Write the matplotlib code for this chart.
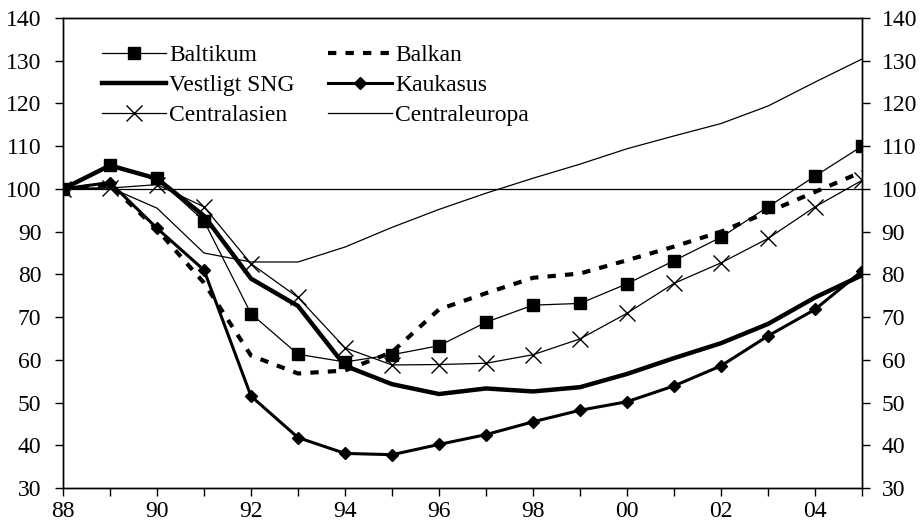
import numpy as np
import matplotlib
matplotlib.use('Agg')
import matplotlib.pyplot as plt

plt.rcParams['font.family'] = ['Liberation Serif', 'DejaVu Serif']

years = np.arange(1988, 2006)

baltikum = [100, 105.5, 102.5, 92.5, 70.8, 61.3, 59.5, 61.2, 63.3, 68.8,
            72.8, 73.2, 77.8, 83.2, 88.7, 95.8, 103, 110]
balkan = [100, 101, 90.5, 78, 61, 56.8, 57.5, 61.8, 71.8, 75.6,
          79.2, 80.2, 83.3, 86.5, 90, 94.6, 99.3, 104]
vestligt_sng = [100, 105.5, 102.4, 93.7, 79, 72.6, 58.6, 54.3, 52, 53.3,
                52.6, 53.6, 56.7, 60.4, 63.9, 68.4, 74.6, 79.8]
kaukasus = [100, 101.5, 90.8, 81, 51.5, 41.8, 38.1, 37.8, 40.2, 42.5,
            45.5, 48.2, 50.2, 53.9, 58.6, 65.6, 71.8, 80.8]
centralasien = [100, 100.2, 101, 95.8, 82.5, 74.6, 62.8, 58.8, 58.9, 59.2,
                61.2, 64.9, 70.9, 77.9, 82.7, 88.4, 95.8, 102]
centraleuropa = [100, 100.3, 95.5, 85, 82.9, 82.9, 86.4, 91, 95.2, 99,
                 102.5, 105.8, 109.4, 112.4, 115.3, 119.4, 125, 130.4]

fig = plt.figure(figsize=(9.21, 5.26), dpi=100)
ax = fig.add_axes([0.0684, 0.0722, 0.8676, 0.8936])

ax.axhline(100, color='black', lw=0.9, zorder=1)

l_cen = ax.plot(years, centraleuropa, color='black', lw=0.9, label='Centraleuropa')[0]
l_bal = ax.plot(years, balkan, color='black', lw=3, linestyle=(0, (2, 2.2)),
                label='Balkan')[0]
l_cas = ax.plot(years, centralasien, color='black', lw=0.9, marker='x',
                markersize=11, markeredgewidth=1.0, label='Centralasien')[0]
l_sng = ax.plot(years, vestligt_sng, color='black', lw=3.2, label='Vestligt SNG')[0]
l_kau = ax.plot(years, kaukasus, color='black', lw=2.2, marker='D',
                markersize=6.5, label='Kaukasus')[0]
l_blt = ax.plot(years, baltikum, color='black', lw=0.9, marker='s',
                markersize=8.5, label='Baltikum')[0]

ax.set_xlim(1988, 2005)
ax.set_ylim(30, 140)
ax.set_yticks(np.arange(30, 141, 10))
ax.set_xticks(years)
ax.set_xticklabels(['%02d' % (y % 100) if (y - 1988) % 2 == 0 else '' for y in years])

ax.tick_params(axis='both', direction='out', length=5.5, width=1, labelsize=17,
               color='black')
ax.tick_params(axis='x', pad=4)
ax.tick_params(axis='y', pad=10)

ax2 = ax.twinx()
ax2.set_ylim(30, 140)
ax2.set_yticks(np.arange(30, 141, 10))
ax2.tick_params(axis='y', direction='out', length=5.5, width=1, labelsize=17, pad=8.5)

for a in (ax, ax2):
    for s in a.spines.values():
        s.set_linewidth(1)
        s.set_color('black')

handles = [l_blt, l_sng, l_cas, l_bal, l_kau, l_cen]
ax.legend(handles=handles, ncol=2, frameon=False, fontsize=17,
          loc='upper left', bbox_to_anchor=(0.031, 0.974),
          handlelength=2.7, handletextpad=0.15, columnspacing=1.4,
          labelspacing=0.36, borderaxespad=0.2)

fig.savefig('out.png', dpi=100)
